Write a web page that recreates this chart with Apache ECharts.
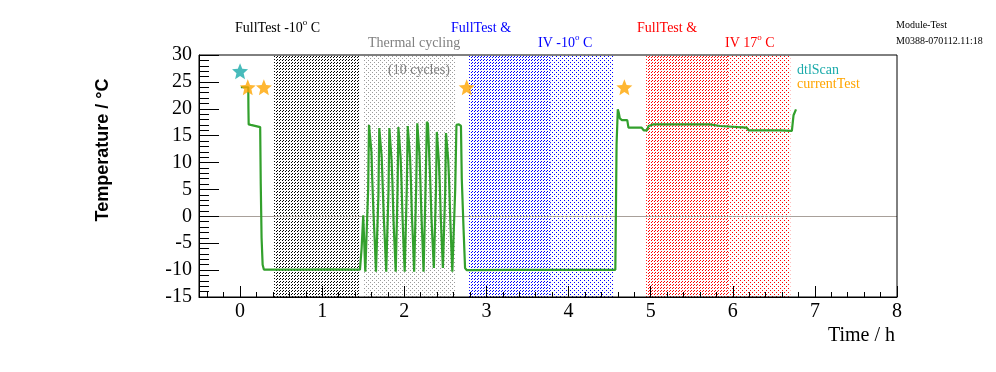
<!DOCTYPE html>
<html><head><meta charset="utf-8">
<script src="https://cdn.jsdelivr.net/npm/echarts@6/dist/echarts.min.js"></script>
<style>html,body{margin:0;padding:0;background:#fff}#c{width:996px;height:372px}</style>
</head><body><div id="c"></div>
<script>
// ---- data (hours, degrees C) ----
const tempTime = [
 0.01,0.10,0.102,0.105,0.13,0.14,0.245,0.252,0.262,0.275,0.29,0.70,1.10,1.46,1.48,1.50,1.515,1.525,1.545,
 1.56,1.57,1.585,1.60,1.61,1.625,1.64,1.655,1.675,
 1.685,1.695,1.71,1.725,1.735,1.75,1.765,1.78,1.795,
 1.808,1.818,1.83,1.845,1.855,1.868,1.882,1.896,1.905,
 1.918,1.928,1.94,1.955,1.965,1.978,1.99,2.005,2.018,
 2.03,2.042,2.055,2.07,2.08,2.093,2.107,2.12,2.132,
 2.145,2.158,2.17,2.185,2.195,2.208,2.222,2.235,2.247,
 2.26,2.275,2.288,2.302,2.315,2.33,2.345,2.36,2.375,
 2.386,2.396,2.408,2.42,2.432,2.445,2.457,2.47,2.488,
 2.498,2.508,2.52,2.535,2.547,2.56,2.572,2.585,2.608,
 2.62,2.635,2.665,2.69,2.70,2.722,2.74,2.76,
 3.29,3.295,3.30,3.76,3.765,3.77,4.53,4.545,4.57,
 4.585,4.60,4.61,4.625,4.65,4.715,4.73,4.89,4.915,4.955,4.975,5.035,5.19,5.20,5.21,5.72,5.73,5.845,5.85,6.17,6.19,6.575,6.58,6.72,6.74,6.77
];
const tempValue = [
 24.0,24.0,20.0,17.1,17.0,16.7,16.6,6.0,-4.0,-9.0,-9.9,-9.9,-9.85,-9.9,-6.0,0.2,0.0,-10.3,-10.3,
 5.0,17.0,16.8,12.0,6.8,0.5,-4.5,-10.3,-10.3,
 4.0,16.4,16.2,11.0,6.5,0.0,-5.0,-10.3,-10.3,
 5.0,16.4,16.1,10.5,6.5,-0.5,-5.5,-10.3,-10.3,
 5.0,16.6,16.3,11.0,6.8,0.0,-5.0,-10.3,-10.3,
 5.0,16.8,16.5,11.0,6.8,0.0,-5.0,-10.3,-10.3,
 5.5,17.3,17.0,11.5,7.0,0.5,-5.0,-10.3,-10.3,
 6.0,17.6,17.2,12.0,7.0,0.0,-5.0,-9.6,-9.6,
 5.0,15.7,15.4,10.5,6.0,-0.5,-5.0,-9.6,-9.6,
 4.5,15.5,15.2,10.5,6.0,-0.5,-5.5,-10.3,-10.3,
 5.0,17.0,17.1,16.8,7.0,-2.5,-9.6,-10.0,
 -9.95,-10.15,-9.95,-9.95,-10.15,-9.95,-9.95,-10.1,-9.95,
 13.4,19.9,19.4,18.2,17.9,17.9,16.5,16.5,16.0,16.0,16.8,17.1,17.1,16.85,17.1,17.1,16.8,16.8,16.5,16.5,16.0,16.0,15.9,15.9,18.8,19.9
];
const dtlScanTime = [0.0];
const dtlScanValue = [27.0];
const currentTestTime = [0.094, 0.29, 2.76, 4.68];
const currentTestValue = [24.0, 24.0, 24.0, 24.0];
// shaded test periods (hours)
const bandStart = [0.414, 1.498, 2.789, 3.776, 4.945, 5.944];
const bandEnd   = [1.449, 2.619, 3.776, 4.543, 5.944, 6.70];
const xTickValues = [0,1,2,3,4,5,6,7,8];
const xMinorTickValues = [-0.4,-0.2,0.2,0.4,0.6,0.8,1.2,1.4,1.6,1.8,2.2,2.4,2.6,2.8,3.2,3.4,3.6,3.8,4.2,4.4,4.6,4.8,5.2,5.4,5.6,5.8,6.2,6.4,6.6,6.8,7.2,7.4,7.6,7.8];

// ---- styles ----
function pattern(color, w, h, test) {
  const c = document.createElement('canvas'); c.width = w; c.height = h;
  const ctx = c.getContext('2d'); ctx.fillStyle = color;
  for (let y = 0; y < h; y++) for (let x = 0; x < w; x++) if (test(x, y)) ctx.fillRect(x, y, 1, 1);
  return { image: c, repeat: 'repeat' };
}
// dashed "/" hatch and staggered dots
const hatch = col => pattern(col, 6, 6, (x, y) => (x + y) % 3 === 0 && x % 3 !== 2);
const dots = col => pattern(col, 4, 4, (x, y) => (x === 0 && y === 0) || (x === 2 && y === 2));
const bandFills = [hatch('#000000'), dots('#9a9a9a'), hatch('#0000ff'), dots('#0000ff'), hatch('#ff0000'), dots('#ff0000')];

function starPath() {
  let p = '';
  for (let i = 0; i < 10; i++) {
    const r = i % 2 ? 0.45 : 1; const a = -Math.PI / 2 + i * Math.PI / 5;
    p += (i ? 'L' : 'M') + (r * Math.cos(a)).toFixed(3) + ' ' + (r * Math.sin(a)).toFixed(3) + ' ';
  }
  return 'path://' + p + 'Z';
}
const STAR = starPath();
const serif = 'Liberation Serif';
const GREEN = '#32a02c', TEAL = '#1aaaaa', ORANGE = '#ffa500';

const mctx = document.createElement('canvas').getContext('2d');
function textWidth(t, size) { mctx.font = size + 'px "' + serif + '"'; return mctx.measureText(t).width; }
// text made of pieces: [text, fontSize, dy]
function pieces(parts, x, y, color) {
  const out = []; let cx = x;
  parts.forEach(p => {
    out.push({ type: 'text', x: cx, y: y + p[2], z: 50, style: { text: p[0], fill: color, font: p[1] + 'px "' + serif + '"', textVerticalAlign: 'middle' } });
    cx += textWidth(p[0], p[1]);
  });
  return out;
}
function label(text, x, y, color, size) { return pieces([[text, size, 0]], x, y, color); }

const chart = echarts.init(document.getElementById('c'), null, { renderer: 'canvas' });
chart.setOption({
  animation: false,
  backgroundColor: '#ffffff',
  grid: { left: 199, right: 99, top: 55, bottom: 75, show: true, borderColor: '#000', borderWidth: 1, z: 20, backgroundColor: 'transparent' },
  xAxis: [{
    type: 'value', min: -0.5, max: 8, position: 'bottom', z: 20,
    axisLine: { onZero: false, lineStyle: { color: '#000', width: 1 } },
    axisTick: { inside: true, length: 11, customValues: xTickValues, lineStyle: { color: '#000' } },
    axisLabel: { customValues: xTickValues, color: '#000', fontFamily: serif, fontSize: 20, margin: 5 },
    splitLine: { show: false }
  }, {
    type: 'value', min: -0.5, max: 8, position: 'bottom', z: 20,
    axisLine: { show: false, onZero: false },
    axisTick: { inside: true, length: 5, customValues: xMinorTickValues, lineStyle: { color: '#000' } },
    axisLabel: { show: false }, splitLine: { show: false }
  }],
  yAxis: {
    type: 'value', min: -15, max: 30, interval: 5, z: 20,
    axisLine: { show: true, onZero: false, lineStyle: { color: '#000', width: 1 } },
    axisTick: { show: true, inside: true, length: 20, lineStyle: { color: '#000' } },
    minorTick: { show: true, splitNumber: 5, length: 10, lineStyle: { color: '#000' } },
    axisLabel: { color: '#000', fontFamily: serif, fontSize: 20, margin: 7 },
    splitLine: { show: false }
  },
  series: [{
    type: 'line', data: [], z: 1, silent: true,
    markArea: { silent: true, data: bandStart.map((s, i) => [{ xAxis: s, itemStyle: { color: bandFills[i], opacity: 1, borderWidth: 0 } }, { xAxis: bandEnd[i] }]) }
  }, {
    type: 'line', data: [], z: 2, silent: true,
    markLine: { silent: true, symbol: ['none', 'none'], label: { show: false }, lineStyle: { color: '#a8a09a', width: 1, type: 'solid' }, data: [{ yAxis: 0 }] }
  }, {
    type: 'line', z: 5, symbol: 'none', silent: true,
    lineStyle: { color: GREEN, width: 2.2 },
    data: tempTime.map((t, i) => [t, tempValue[i]])
  }, {
    type: 'scatter', z: 6, symbol: STAR, symbolSize: 16, silent: true,
    itemStyle: { color: TEAL },
    data: dtlScanTime.map((t, i) => [t, dtlScanValue[i]])
  }, {
    type: 'scatter', z: 6, symbol: STAR, symbolSize: 16, silent: true,
    itemStyle: { color: ORANGE },
    data: currentTestTime.map((t, i) => [t, currentTestValue[i]])
  }],
  graphic: [].concat(
    pieces([['FullTest -10', 14, 0], ['o', 9, -5], [' C', 14, 0]], 235, 28, '#000000'),
    label('Thermal cycling', 368, 43, '#808080', 14),
    label('(10 cycles)', 388, 70, '#808080', 14),
    label('FullTest &', 451, 28, '#0000ff', 14),
    pieces([['IV -10', 14, 0], ['o', 9, -5], [' C', 14, 0]], 538, 43, '#0000ff'),
    label('FullTest &', 637, 28, '#ff0000', 14),
    pieces([['IV 17', 14, 0], ['o', 9, -5], [' C', 14, 0]], 725, 43, '#ff0000'),
    label('Module-Test', 896, 25, '#000000', 10),
    label('M0388-070112.11:18', 896, 41, '#000000', 10),
    label('dtlScan', 797, 70, TEAL, 14),
    label('currentTest', 797, 84, ORANGE, 14),
    [{ type: 'text', x: 895, y: 336, z: 50, style: { text: 'Time / h', fill: '#000', font: '20px "' + serif + '"', textAlign: 'right', textVerticalAlign: 'middle' } },
     { type: 'text', x: 103, y: 150, rotation: Math.PI / 2, z: 50, style: { text: 'Temperature / °C', fill: '#000', font: 'bold 18px "Liberation Sans"', textAlign: 'center', textVerticalAlign: 'middle' } }]
  )
});
</script></body></html>
